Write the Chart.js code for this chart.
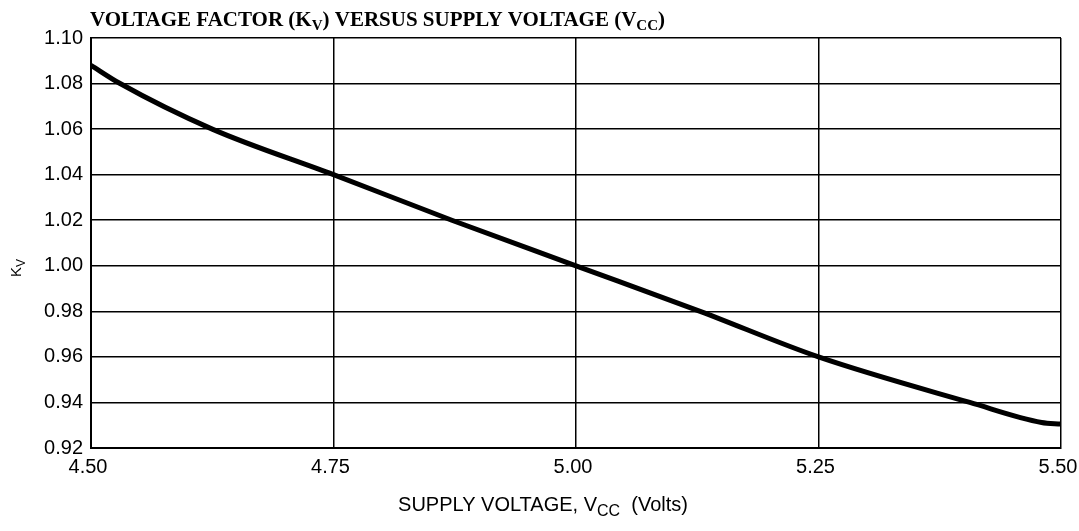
<!DOCTYPE html>
<html>
<head>
<meta charset="utf-8">
<script src="https://cdn.jsdelivr.net/npm/chart.js@4/dist/chart.umd.min.js"></script>
<style>
html,body{margin:0;padding:0;background:#fff;}
#wrap{width:1079px;height:531px;position:relative;overflow:hidden;}
canvas{position:absolute;left:0;top:0;}
</style>
</head>
<body>
<div id="wrap"><canvas id="c" width="1079" height="531"></canvas></div>
<script>
const supplyVoltage = [4.50, 4.53, 4.625, 4.75, 4.872, 5.00, 5.128, 5.25, 5.406, 5.48, 5.50];
const voltageFactor = [1.088, 1.080, 1.060, 1.040, 1.020, 1.000, 0.980, 0.960, 0.940, 0.9312, 0.9305];
const xTicks = [4.50, 4.75, 5.00, 5.25, 5.50];
const yTicks = [0.92, 0.94, 0.96, 0.98, 1.00, 1.02, 1.04, 1.06, 1.08, 1.10];

const titleParts = [["VOLTAGE FACTOR (K",0],["V",1],[") VERSUS SUPPLY VOLTAGE (V",0],["CC",1],[")",0]];
const xLabelParts = [["SUPPLY VOLTAGE, V",0],["CC",1],["  (Volts)",0]];
const yLabelParts = [["K",0],["V",1]];

function drawParts(ctx, parts, x, y, font, subFont, align, subShift) {
  let total = 0;
  parts.forEach(p => { ctx.font = p[1] ? subFont : font; total += ctx.measureText(p[0]).width; });
  let cx = align === 'center' ? x - total/2 : x;
  ctx.textAlign = 'left';
  ctx.textBaseline = 'alphabetic';
  parts.forEach(p => {
    ctx.font = p[1] ? subFont : font;
    ctx.fillText(p[0], cx, y + (p[1] ? subShift : 0));
    cx += ctx.measureText(p[0]).width;
  });
}

const labelPlugin = {
  id: 'labels',
  afterDraw(chart) {
    const ctx = chart.ctx;
    ctx.save();
    ctx.fillStyle = '#000';
    drawParts(ctx, titleParts, 90, 26, 'bold 21px "Liberation Serif"', 'bold 15px "Liberation Serif"', 'left', 4);
    drawParts(ctx, xLabelParts, 543, 511, '20px "Liberation Sans"', '16px "Liberation Sans"', 'center', 5);
    ctx.translate(21, 268);
    ctx.rotate(-Math.PI/2);
    drawParts(ctx, yLabelParts, 0, 0, '15px "Liberation Sans"', '12px "Liberation Sans"', 'center', 4);
    ctx.restore();
  }
};

new Chart(document.getElementById('c'), {
  type: 'line',
  data: {
    datasets: [{
      data: supplyVoltage.map((v, i) => ({x: v, y: voltageFactor[i]})),
      borderColor: '#000',
      borderWidth: 5,
      pointRadius: 0,
      cubicInterpolationMode: 'monotone',
      fill: false
    }]
  },
  options: {
    responsive: false,
    animation: false,
    devicePixelRatio: 1,
    layout: { padding: { top: 38, right: 18, left: 0, bottom: 0 } },
    plugins: { legend: { display: false }, tooltip: { enabled: false }, title: { display: false } },
    scales: {
      x: {
        type: 'linear',
        min: 4.5, max: 5.5,
        afterBuildTicks: s => { s.ticks = xTicks.map(v => ({value: v})); },
        afterFit: s => { s.height = 83; s.paddingLeft = 0; s.paddingRight = 0; },
        grid: { color: '#000', lineWidth: 1.5, drawTicks: false },
        border: { color: '#000', width: 2 },
        ticks: { color: '#000', font: { family: 'Liberation Sans', size: 20 }, padding: 7, maxRotation: 0,
          labelOffset: -3,
          callback: v => Number(v).toFixed(2) }
      },
      y: {
        min: 0.92, max: 1.10,
        afterBuildTicks: s => { s.ticks = yTicks.map(v => ({value: v})); },
        afterFit: s => { s.width = 91; },
        grid: { color: '#000', lineWidth: 1.5, drawTicks: false },
        border: { color: '#000', width: 2 },
        ticks: { color: '#000', font: { family: 'Liberation Sans', size: 20 }, padding: 8,
          callback: v => Number(v).toFixed(2) }
      }
    }
  },
  plugins: [labelPlugin]
});
</script>
</body>
</html>
